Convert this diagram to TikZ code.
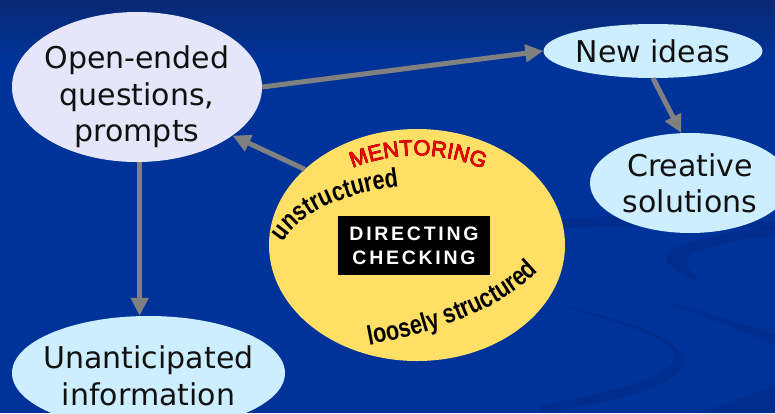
\documentclass[tikz,border=0pt]{standalone}
\usepackage{fontspec}
\setmainfont{DejaVu Sans}
\newfontfamily\arialf[FakeStretch=0.8]{Liberation Sans}
\newfontfamily\redf[FakeBold=1.4]{Liberation Sans}
\newfontfamily\outlinef[FakeBold=2.6]{Liberation Sans}
\newfontfamily\boxf[LetterSpace=14.0]{Liberation Sans}
\usetikzlibrary{arrows.meta,shapes.geometric,decorations.text}
\definecolor{bgmain}{RGB}{0,51,153}
\definecolor{bgtop}{RGB}{10,40,115}
\definecolor{bgswoosh}{RGB}{0,42,135}
\definecolor{lavender}{RGB}{230,230,250}
\definecolor{paleblue}{RGB}{204,238,255}
\definecolor{sunyellow}{RGB}{255,223,102}
\definecolor{arrowgray}{RGB}{128,128,128}
\definecolor{inkdark}{RGB}{17,17,17}
\definecolor{mentred}{RGB}{245,0,0}
\definecolor{mentedge}{RGB}{50,0,0}
\tikzset{
  bubble/.style={ellipse, inner sep=0pt, text=inkdark, align=center,
    font=\fontsize{30}{36}\selectfont},
  bubbletext/.style={text=inkdark, align=center, inner sep=0pt,
    font=\fontsize{30}{36.5}\selectfont},
  flow/.style={draw=arrowgray, line width=5pt,
    -{Triangle[length=18pt,width=17pt]}},
  curvetext/.style={decorate, decoration={text along path, text align=center}},
  swoosh/.style={fill=bgswoosh, opacity=0.6}
}
\begin{document}
\begin{tikzpicture}[x=1pt,y=-1pt]
  \useasboundingbox (0,0) rectangle (775,413);
  \clip (0,0) rectangle (775,413);
  % backdrop with faint curved bands at the lower right
  \fill[bgmain] (0,0) rectangle (775,413);
  \shade[top color=bgtop, bottom color=bgmain] (0,0) rectangle (775,60);
  \fill[swoosh] (540,222) .. controls (620,212) and (700,214) .. (775,222)
    -- (775,230) .. controls (700,224) and (620,224) .. (540,230) -- cycle;
  \fill[swoosh] (775,226) .. controls (700,236) and (655,248) .. (668,262)
    .. controls (675,272) and (690,278) .. (700,282)
    .. controls (690,272) and (682,262) .. (690,255)
    .. controls (710,244) and (745,238) .. (775,236) -- cycle;
  \fill[swoosh] (550,303) .. controls (600,318) and (655,330) .. (672,350)
    .. controls (690,372) and (620,392) .. (540,405)
    -- (540,413) .. controls (640,398) and (700,378) .. (680,352)
    .. controls (665,332) and (610,316) .. (550,303) -- cycle;
  \fill[swoosh] (655,300) .. controls (700,310) and (740,322) .. (775,335)
    -- (775,345) .. controls (740,330) and (700,314) .. (655,300) -- cycle;
  \fill[swoosh] (700,413) .. controls (730,402) and (755,393) .. (775,386)
    -- (775,413) -- cycle;

  % bubbles
  \node[ellipse, fill=lavender, minimum width=250pt, minimum height=150pt]
    (oe) at (137,87) {};
  \node[bubbletext] (oet) at (137,97) {Open-ended\\questions,\\prompts};
  \node[bubble, fill=paleblue, minimum width=190pt, minimum height=54pt]
    (ni) at (653,51) {New ideas};
  \node[bubble, fill=paleblue, minimum width=200pt, minimum height=100pt]
    (cs) at (690,183) {Creative\\solutions};
  \node[ellipse, fill=paleblue, minimum width=273pt, minimum height=114pt]
    (ua) at (148.5,373) {};
  \node[bubbletext] (uat) at (148.5,376) {Unanticipated\\information};
  \node[ellipse, fill=sunyellow, minimum width=296pt, minimum height=232pt]
    (me) at (417,245) {};
  \node[fill=black, text=white, minimum width=152pt, minimum height=59pt,
    align=center, inner sep=0pt,
    font=\boxf\bfseries\fontsize{19.5}{24}\selectfont]
    (dc) at (414,245.5) {DIRECTING\\CHECKING};

  % text set along curves inside the yellow ellipse
  \path[curvetext, decoration={text={|\outlinef\fontsize{22}{22}\selectfont\color{mentedge}|MENTORING}}]
    (346,171) .. controls (390,150) and (446,150) .. (490,172);
  \path[curvetext, decoration={text={|\redf\fontsize{22}{22}\selectfont\color{mentred}|MENTORING}}]
    (346,171) .. controls (390,150) and (446,150) .. (490,172);
  \path[curvetext, decoration={text={|\arialf\bfseries\fontsize{27}{27}\selectfont\color{black}|unstructured}}]
    (280,247) .. controls (300,210) and (350,192) .. (404,186);
  \path[curvetext, decoration={text={|\arialf\bfseries\fontsize{27}{27}\selectfont\color{black}|loosely structured}}]
    (364,346) .. controls (430,334) and (500,312) .. (542,268);

  % connectors
  \draw[flow] (oe.east) -- (ni.west);
  \draw[flow] (ni.south) -- (cs.100);
  \draw[flow] (me.146) -- (oe.-27);
  \draw[flow] (oe.-88) -- (oe.-88 |- ua.north);
\end{tikzpicture}
\end{document}
